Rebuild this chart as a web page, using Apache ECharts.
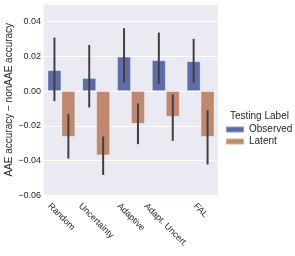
<!DOCTYPE html>
<html>
<head>
<meta charset="utf-8">
<script src="https://cdn.jsdelivr.net/npm/echarts@6/dist/echarts.min.js"></script>
<style>html,body{margin:0;padding:0;background:#fff;}#c{width:295px;height:256px;}</style>
</head>
<body>
<div id="c"></div>
<script>
var categories = ['Random', 'Uncertainty', 'Adaptive', 'Adapt. Uncert.', 'FAL'];
var observed = [0.0120, 0.0075, 0.0198, 0.0177, 0.0171];
var observedLow = [-0.0058, -0.0094, 0.0050, 0.0044, 0.0050];
var observedHigh = [0.0307, 0.0265, 0.0361, 0.0336, 0.0300];
var latent = [-0.0263, -0.0370, -0.0188, -0.0148, -0.0263];
var latentLow = [-0.0388, -0.0482, -0.0305, -0.0286, -0.0422];
var latentHigh = [-0.0133, -0.0261, -0.0071, -0.0019, -0.0110];
var seriesNames = ['Observed', 'Latent'];
var legendTitle = 'Testing Label';
var yAxisTitle = 'AAE accuracy \u2212 nonAAE accuracy';

var FONT = '"Liberation Sans", Arial, sans-serif';
var XFS = 9;
var cv = document.createElement('canvas').getContext('2d');
cv.font = XFS + 'px ' + FONT;
var rich = {};
categories.forEach(function (c, i) {
  var L = cv.measureText(c).width;
  var H = XFS;
  rich['c' + i] = {
    fontSize: XFS, fontFamily: FONT, color: '#262626', align: 'left',
    padding: [Math.max(0, (L - H) / 4), 0, 0, (L + H) / 2]
  };
});

function errItems(lo, hi) {
  return categories.map(function (c, i) { return [i, lo[i], hi[i]]; });
}
function errRender(frac) {
  return function (params, api) {
    var x = api.value(0);
    var a = api.coord([x, api.value(1)]);
    var b = api.coord([x, api.value(2)]);
    var dx = api.size([1, 0])[0] * frac;
    return {
      type: 'line',
      shape: { x1: a[0] + dx, y1: a[1], x2: b[0] + dx, y2: b[1] },
      style: { stroke: '#404040', lineWidth: 2 }
    };
  };
}

var chart = echarts.init(document.getElementById('c'), null, { renderer: 'canvas' });
chart.setOption({
  animation: false,
  textStyle: { fontFamily: FONT },
  title: {
    text: legendTitle, left: 225, top: 106,
    textStyle: { fontSize: 10, fontWeight: 'normal', color: '#262626', fontFamily: FONT }
  },
  legend: {
    data: seriesNames, orient: 'vertical', left: 220, top: 119,
    icon: 'rect', itemWidth: 18, itemHeight: 6, itemGap: 1,
    textStyle: { fontSize: 10, color: '#262626', lineHeight: 11, fontFamily: FONT }
  },
  grid: {
    left: 44, right: 77, top: 4, bottom: 60.5,
    outerBoundsMode: 'none', containLabel: false,
    show: true, backgroundColor: '#eaeaf2', borderWidth: 0
  },
  xAxis: {
    type: 'category', data: categories,
    axisLine: { show: false, onZero: false }, axisTick: { show: false },
    splitLine: { show: false },
    axisLabel: {
      interval: 0, rotate: -45, margin: 6, align: 'center', verticalAlign: 'top',
      hideOverlap: false,
      formatter: function (v, i) { return '{c' + i + '|' + v + '}'; },
      rich: rich
    }
  },
  yAxis: {
    type: 'value', min: -0.06, max: 0.05, interval: 0.02,
    name: yAxisTitle, nameLocation: 'middle', nameGap: 30, nameMoveOverlap: false,
    nameTextStyle: { fontSize: 10, color: '#262626', fontFamily: FONT },
    axisLine: { show: false }, axisTick: { show: false },
    splitLine: { lineStyle: { color: '#ffffff', width: 1 } },
    axisLabel: {
      fontSize: 9, color: '#262626', margin: 3, showMaxLabel: false,
      formatter: function (v) {
        if (Math.abs(Math.round(v / 0.02) * 0.02 - v) > 1e-9) return '';
        var s = Math.abs(v).toFixed(2);
        return (v < -1e-9 ? '\u2212' : '') + s;
      }
    }
  },
  series: [
    {
      name: seriesNames[0], type: 'bar', data: observed,
      barGap: '0%', barCategoryGap: '20%',
      itemStyle: { color: '#5d6ba7', borderColor: 'rgba(255,255,255,0.3)', borderWidth: 1 }
    },
    {
      name: seriesNames[1], type: 'bar', data: latent,
      barGap: '0%', barCategoryGap: '20%',
      itemStyle: { color: '#c0886f', borderColor: 'rgba(255,255,255,0.3)', borderWidth: 1 }
    },
    {
      name: 'errObserved', type: 'custom', z: 5,
      renderItem: errRender(-0.2), data: errItems(observedLow, observedHigh),
      encode: { x: 0, y: [1, 2] }
    },
    {
      name: 'errLatent', type: 'custom', z: 5,
      renderItem: errRender(0.2), data: errItems(latentLow, latentHigh),
      encode: { x: 0, y: [1, 2] }
    }
  ]
});
</script>
</body>
</html>
